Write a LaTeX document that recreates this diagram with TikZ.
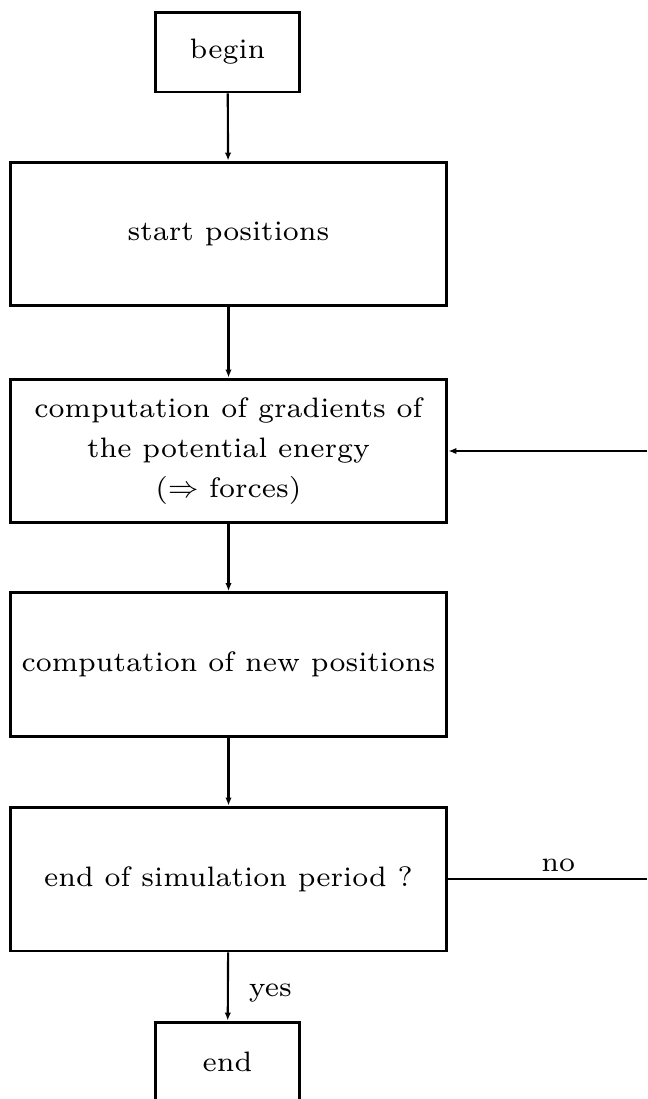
\documentclass[tikz,border=0pt]{standalone}
\usepackage{amssymb}
\usepackage{fontspec}
\newfontfamily\lmseven{lmroman7-regular.otf}
\usetikzlibrary{arrows.meta}

\begin{document}
\begin{tikzpicture}[x=0.02cm,y=-0.02cm,>={Latex[length=1.6mm,width=1.3mm]},font=\lmseven\fontsize{16}{22.8}\selectfont]
			\tikzstyle{stepbox} = [rectangle,draw,line width=1.7pt,minimum width=8.74cm,minimum height=2.88cm,align=center,inner sep=2pt]
			\tikzstyle{termbox} = [rectangle,draw,line width=1.7pt,minimum width=2.9cm,minimum height=1.6cm]
			\tikzstyle{flow} = [->,line width=1.2pt]
			
			\useasboundingbox (0,0) rectangle (647,1099);
			
			\node[termbox] (begin) at (227.5,52) {begin};
			\node[stepbox] (start) at (228.5,234) {start positions};
			\node[stepbox] (grad) at (228.5,451) {computation of gradients of\\the potential energy\\($\Rightarrow$ forces)};
			\node[stepbox] (newpos) at (228.5,664.5) {computation of new positions};
			\node[stepbox] (check) at (228.5,879) {end of simulation period ?};
			\node[termbox] (end) at (227.5,1062) {end};
			\coordinate (loopin) at (647,451);
			\coordinate (loopout) at (647,879);
			
			\path[flow] (begin) edge (start);
			\path[flow] (start) edge (grad);
			\path[flow] (grad) edge (newpos);
			\path[flow] (newpos) edge (check);
			\path[flow] (check) edge node[right,xshift=8pt,yshift=-4pt]{yes} (end);
			\path[line width=1.2pt] (check) edge node[above,xshift=6pt]{no} (loopout);
			\path[flow] (loopin) edge (grad);
		\end{tikzpicture}
\end{document}
